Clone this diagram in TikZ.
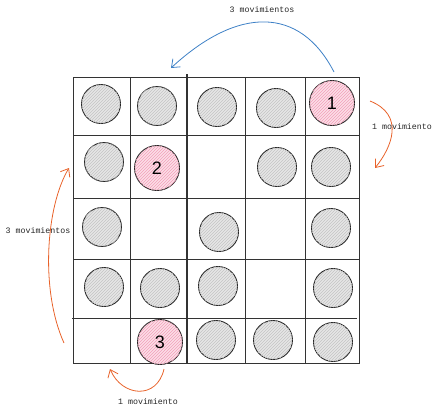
\documentclass[tikz,border=0pt]{standalone}
\usepackage{fontspec}
\setmonofont{Liberation Mono}
\newfontfamily\numfont{Liberation Sans}
\usetikzlibrary{patterns,arrows.meta}
\definecolor{gris}{HTML}{E6E6E6}
\definecolor{grisraya}{HTML}{C4C4C4}
\definecolor{rosa}{HTML}{FCDEE7}
\definecolor{rosaraya}{HTML}{F2A0B9}
\definecolor{azul}{HTML}{3D80C6}
\definecolor{naranja}{HTML}{E8622A}
\tikzset{
	bola/.style={circle, draw=black!85, line width=0.9pt, inner sep=0pt},
	ficha/.style={bola, minimum size=39pt, fill=gris, postaction={pattern=north east lines, pattern color=grisraya}},
	marcada/.style={bola, minimum size=45pt, fill=rosa, postaction={pattern=north east lines, pattern color=rosaraya}, font=\numfont\fontsize{18}{18}\selectfont},
	etiqueta/.style={font=\ttfamily\fontsize{8.3}{10}\selectfont, text=black!85},
	linea/.style={draw=black!80, line width=0.9pt},
	movida/.style={line width=0.8pt, ->},
}

\begin{document}
\begin{tikzpicture}[x=1pt, y=-1pt, >={Straight Barb[length=7pt,width=11pt]}]
		\useasboundingbox (0,0) rectangle (439,413);
		% tablero
		\draw[linea] (73,77) rectangle (359,363);
		\draw[linea] (130,77) -- (130,363);
		\draw[linea, line width=1.4pt] (187,74) -- (187,363);
		\draw[linea] (245,77) -- (245,363);
		\draw[linea] (305,77) -- (305,363);
		\draw[linea] (73,135) -- (359,135);
		\draw[linea] (73,198) -- (359,198);
		\draw[linea] (73,259) -- (359,259);
		\draw[linea] (72,318) -- (357,318);
		% fila 1
		\node[ficha] (f11) at (101,104) {};
		\node[ficha] (f12) at (157,106) {};
		\node[ficha] (f13) at (217,107) {};
		\node[ficha] (f14) at (276,108) {};
		\node[marcada] (f15) at (332,103) {1};
		% fila 2
		\node[ficha] (f21) at (104,162) {};
		\node[marcada] (f22) at (157,168) {2};
		\node[ficha] (f24) at (277,167) {};
		\node[ficha] (f25) at (331,167) {};
		% fila 3
		\node[ficha] (f31) at (102,227) {};
		\node[ficha] (f33) at (219,232) {};
		\node[ficha] (f35) at (331,228) {};
		% fila 4
		\node[ficha] (f41) at (104,287) {};
		\node[ficha] (f42) at (160,288) {};
		\node[ficha] (f43) at (218,286) {};
		\node[ficha] (f45) at (333,288) {};
		% fila 5
		\node[marcada] (f52) at (160,342) {3};
		\node[ficha] (f53) at (216,340) {};
		\node[ficha] (f54) at (273,340) {};
		\node[ficha] (f55) at (333,342) {};
		% movimientos
		\coordinate (az1) at (334,72);
		\coordinate (az2) at (171,68);
		\draw[movida, azul] (az1) .. controls (300,6) and (238,6) .. (az2);
		\node[etiqueta] (t1) at (262,10) {3 movimientos};
		\coordinate (de1) at (370,101);
		\coordinate (de2) at (375,168);
		\draw[movida, naranja] (de1) .. controls (405,115) and (392,147) .. (de2);
		\node[etiqueta] (t2) at (402,127) {1 movimiento};
		\coordinate (iz1) at (64,343);
		\coordinate (iz2) at (69,168);
		\draw[movida, naranja] (iz1) .. controls (40,290) and (46,206) .. (iz2);
		\node[etiqueta] (t3) at (38,231) {3 movimientos};
		\coordinate (ab1) at (164,369);
		\coordinate (ab2) at (110,369);
		\draw[movida, naranja] (ab1) .. controls (157,400) and (122,397) .. (ab2);
		\node[etiqueta] (t4) at (148,402) {1 movimiento};
\end{tikzpicture}
\end{document}
